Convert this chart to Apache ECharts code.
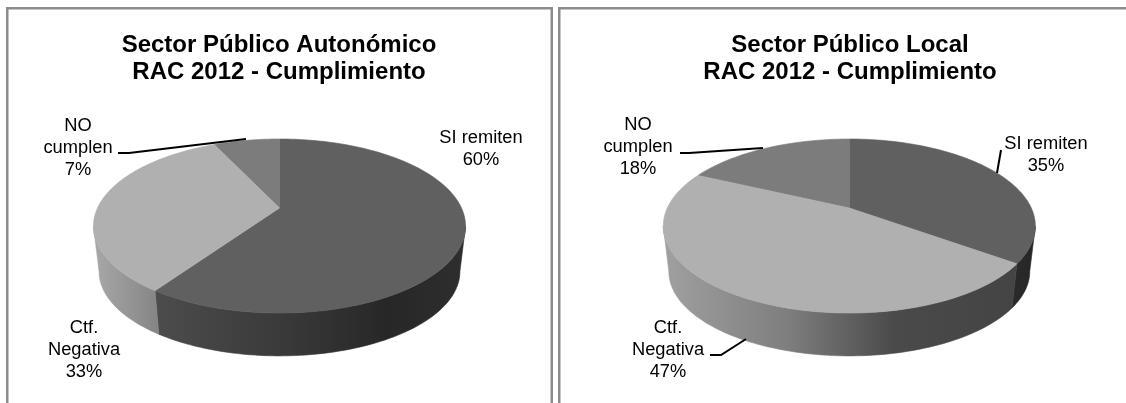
<!DOCTYPE html>
<html><head><meta charset="utf-8">
<style>html,body{margin:0;padding:0;background:#fff}#c{width:1126px;height:403px}</style>
<script src="https://cdn.jsdelivr.net/npm/echarts@6/dist/echarts.min.js"></script>
</head><body><div id="c"></div>
<script>
const categories = ['SI remiten', 'Ctf. Negativa', 'NO cumplen'];
const autonomicoValues = [59.6, 33.4, 7];
const localValues = [35, 47, 18];
const autonomicoTitle = 'Sector Público Autonómico\nRAC 2012 - Cumplimiento';
const localTitle = 'Sector Público Local\nRAC 2012 - Cumplimiento';

// display line breaks for the labels, per pie
const autonomicoLabelText = ['SI remiten', 'Ctf.\nNegativa', 'NO\ncumplen'];
const localLabelText = ['SI remiten', 'Ctf.\nNegativa', 'NO\ncumplen'];

const FONT = '"Liberation Sans", Arial, sans-serif';
const topColors = ['#606060', '#b0b0b0', '#7c7c7c'];
const shape3d = {cy: 208, R: 182, A: 83.3, k: 0.207, shrink: 0.97, depth: 46};
const tangent = Math.asin(shape3d.k) * 180 / Math.PI;

const pies = [
  {cx: 279.5, values: autonomicoValues, text: autonomicoLabelText,
   labelPos: [[481, 138], [84, 328], [78, 126]],
   leaders: [null, null, [[118,153],[129,153],[246,139]]],
   wall: [
     {x0: 156, x1: 466, stops: [[0,'#4c4c4c'],[0.4,'#3a3a3a'],[0.75,'#272727'],[1,'#2e2e2e']]},
     {x0: 94, x1: 156, stops: [[0,'#a8a8a8'],[1,'#868686']]},
     {x0: 0, x1: 1, stops: [[0,'#555'],[1,'#555']]}
   ]},
  {cx: 849.3, values: localValues, text: localLabelText,
   labelPos: [[1046, 144], [668, 328], [638, 125]],
   leaders: [[[1001,150],[997,173]], [[710,355],[721,355],[746,339]], [[680,153],[689,153],[763,148]]],
   wall: [
     {x0: 1015, x1: 1035, stops: [[0,'#2a2a2a'],[1,'#262626']]},
     {x0: 664, x1: 1018, stops: [[0,'#a0a0a0'],[0.35,'#7e7e7e'],[0.65,'#4a4a4a'],[1,'#444444']]},
     {x0: 0, x1: 1, stops: [[0,'#555'],[1,'#555']]}
   ]}
];

function project(p, deg) {
  const t = deg * Math.PI / 180, x = Math.sin(t), y = -Math.cos(t);
  const w = 1 - shape3d.k * y;
  return [shape3d.R * x / w, shape3d.A * y / w];
}
function topPt(p, deg) { const q = project(p, deg); return [p.cx + q[0], shape3d.cy + q[1]]; }
function botPt(p, deg) { const q = project(p, deg);
  return [p.cx + q[0] * shape3d.shrink, shape3d.cy + q[1] * shape3d.shrink + shape3d.depth]; }

function arc(fn, p, a, b) {
  const n = Math.max(2, Math.ceil(Math.abs(b - a) / 1.5)), pts = [];
  for (let i = 0; i <= n; i++) pts.push(fn(p, a + (b - a) * i / n));
  return pts;
}

function makeRender(p) {
  return function (params, api) {
    const i = params.dataIndex;
    const total = p.values.reduce((s, v) => s + v, 0);
    let acc = 0;
    for (let j = 0; j < i; j++) acc += p.values[j];
    const val = api.value(1);
    const a = acc / total * 360, b = (acc + val) / total * 360;
    const children = [];
    const wa = Math.max(a, 90 + tangent), wb = Math.min(b, 270 - tangent);
    if (wb > wa) {
      const w = p.wall[i];
      const pts = arc(topPt, p, wa, wb).concat(arc(botPt, p, wa, wb).reverse());
      const fill = new echarts.graphic.LinearGradient(w.x0, 0, w.x1, 0,
        w.stops.map(s => ({offset: s[0], color: s[1]})), true);
      children.push({type: 'polygon', z2: 1, shape: {points: pts}, style: {fill: fill, stroke: fill, lineWidth: 0.6}});
    }
    const facePts = [[p.cx, shape3d.cy]].concat(arc(topPt, p, a, b));
    children.push({type: 'polygon', z2: 2 + (i === 1 ? 1 : 0), shape: {points: facePts},
      style: {fill: topColors[i], stroke: topColors[i], lineWidth: 0.6}});
    const lead = p.leaders[i];
    if (lead) children.push({type: 'polyline', z2: 5, shape: {points: lead},
      style: {fill: null, stroke: '#000', lineWidth: 2}});
    const pos = p.labelPos[i];
    children.push({type: 'text', z2: 6, x: pos[0], y: pos[1] - 11, style: {
      text: p.text[i] + '\n' + Math.round(val) + '%', x: 0, y: 0, align: 'center', verticalAlign: 'top',
      font: '18.3px ' + FONT, lineHeight: 22, fill: '#000'}});
    return {type: 'group', children: children};
  };
}

const chart = echarts.init(document.getElementById('c'), null, {renderer: 'canvas'});
const borderRects = [[6,7,2.5,396],[7,7,546,2.5],[550.5,7,2.5,396],[558,7,2.5,396],[558,7,568,2.5]];
chart.setOption({
  animation: false,
  backgroundColor: '#fff',
  title: [
    {text: autonomicoTitle, left: 274, top: 27, textAlign: 'center',
     textStyle: {fontFamily: FONT, fontSize: 24, fontWeight: 'bold', color: '#000', lineHeight: 27}},
    {text: localTitle, left: 845, top: 27, textAlign: 'center',
     textStyle: {fontFamily: FONT, fontSize: 24, fontWeight: 'bold', color: '#000', lineHeight: 27}}
  ],
  graphic: borderRects.map(r => ({type: 'rect', silent: true, shape: {x: r[0], y: r[1], width: r[2], height: r[3]},
    style: {fill: '#8c8c8c'}})),
  series: pies.map(p => ({
    type: 'custom', coordinateSystem: 'none', clip: false, silent: true,
    renderItem: makeRender(p),
    encode: {value: 1},
    data: categories.map((c, i) => ({name: c, value: [i, p.values[i]]}))
  }))
});
</script></body></html>
